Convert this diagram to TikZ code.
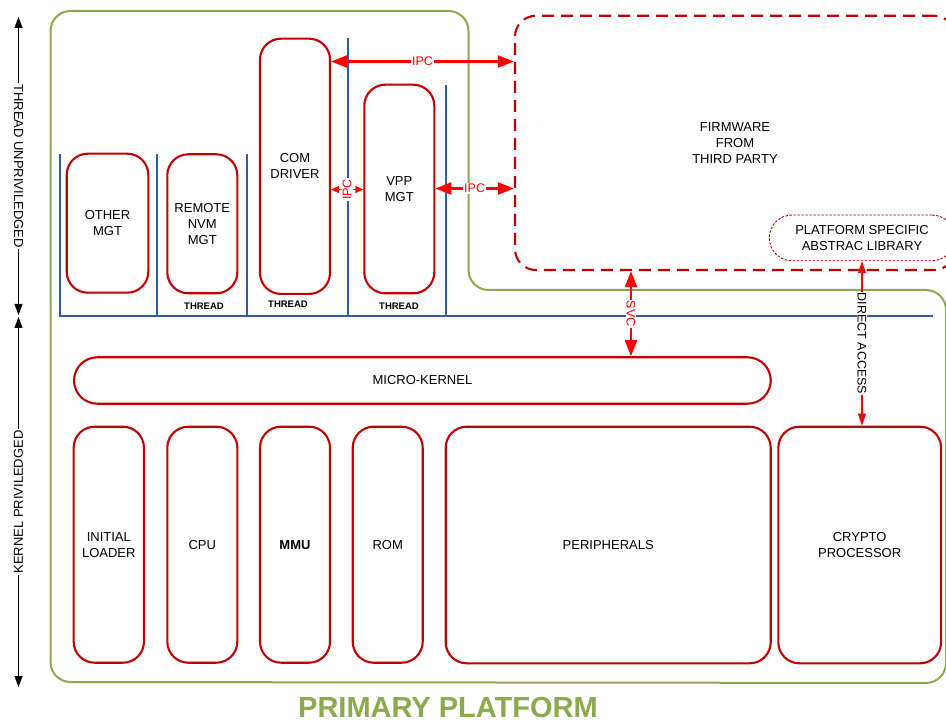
\documentclass[tikz,border=0pt]{standalone}
\usepackage{fontspec}
\setmainfont{Liberation Sans}
\usetikzlibrary{arrows.meta}
\definecolor{dkred}{HTML}{C00000}
\definecolor{arrred}{HTML}{FF0000}
\definecolor{laneblue}{HTML}{2E5EAA}
\definecolor{platgreen}{HTML}{8AAA4E}
\begin{document}
\begin{tikzpicture}[x=1pt,y=-1pt,
  box/.style={draw=dkred, line width=2.1pt, rounded corners=21pt, inner sep=0pt,
    align=center, font=\fontsize{13}{16}\selectfont, text=black},
  fwbox/.style={box, dash pattern=on 12pt off 7pt},
  libbox/.style={draw=dkred, line width=0.9pt, dash pattern=on 2.5pt off 1.5pt,
    rounded corners=22.8pt, inner sep=0pt, align=center,
    font=\fontsize{13}{16}\selectfont, text=black},
  lane/.style={draw=laneblue, line width=2pt},
  frame/.style={draw=platgreen, line width=2pt, rounded corners=20pt},
  ipc/.style={draw=arrred, line width=2.2pt,
    {Triangle[length=16pt,width=12pt]}-{Triangle[length=16pt,width=12pt]}},
  ipcsmall/.style={draw=arrred, line width=1.6pt,
    {Triangle[length=8pt,width=7pt]}-{Triangle[length=8pt,width=7pt]}},
  direct/.style={draw=arrred, line width=1.1pt,
    {Triangle[length=12pt,width=8pt]}-{Triangle[length=12pt,width=8pt]}},
  axis/.style={draw=black, line width=1pt,
    {Triangle[length=11pt,width=8pt]}-{Triangle[length=11pt,width=8pt]}},
  ipclab/.style={fill=white, text=arrred, inner sep=1pt, font=\fontsize{12.5}{14}\selectfont},
  dlab/.style={fill=white, text=black, inner sep=1pt, font=\fontsize{12.5}{14}\selectfont},
  axlab/.style={fill=white, text=black, inner sep=1pt, font=\fontsize{13}{15}\selectfont},
  thr/.style={font=\fontsize{9.5}{11}\selectfont\bfseries, text=black, inner sep=0pt},
]
\useasboundingbox (0,0) rectangle (946,722);

% platform outline
\draw[frame] (50.5,400) -- (50.5,11) -- (468.5,11) -- (468.5,290) -- (946,290)
  -- (946,683) -- (50.5,682) -- cycle;
\node[text=platgreen, inner sep=0pt, font=\fontsize{29}{32}\selectfont\bfseries] (title) at (448,707.5) {PRIMARY PLATFORM};

% privilege axis
\coordinate (a1) at (18.5,17);
\coordinate (a2) at (18.5,315);
\coordinate (a3) at (18.5,317);
\coordinate (a4) at (18.5,687);
\draw[axis] (a1) -- node[axlab, rotate=-90] (unpriv) {THREAD UNPRIVILEDGED} (a2);
\draw[axis] (a3) -- node[axlab, rotate=90] (priv) {KERNEL PRIVILEDGED} (a4);

% thread lanes
\draw[lane] (60,154) -- (60,316.5) -- (933,316.5);
\draw[lane] (157,154) -- (157,316.5);
\draw[lane] (247,154) -- (247,316.5);
\draw[lane] (348,38) -- (348,316.5);
\draw[lane] (446,85) -- (446,316.5);

% unprivileged tasks
\node[box, minimum width=81.6pt, minimum height=139pt] (other) at (107.5,223.2) {OTHER\\MGT};
\node[box, minimum width=70pt, minimum height=139pt] (remote) at (202.3,223.8) {REMOTE\\NVM\\MGT};
\node[box, minimum width=70pt, minimum height=255.3pt] (com) at (295,166.3) {COM\\DRIVER};
\node[box, minimum width=70pt, minimum height=208.6pt] (vpp) at (399.3,189) {VPP\\MGT};
\node[thr] (t1) at (204,306) {THREAD};
\node[thr] (t2) at (288,304) {THREAD};
\node[thr] (t3) at (399,306) {THREAD};

% third-party firmware
\node[fwbox, minimum width=440pt, minimum height=254.3pt] (fw) at (735,142.9) {FIRMWARE\\FROM\\THIRD PARTY};
\node[libbox, minimum width=185.4pt, minimum height=45.7pt] (lib) at (862,237.9) {PLATFORM SPECIFIC\\ABSTRAC LIBRARY};

% kernel and hardware
\node[box, rounded corners=23.2pt, minimum width=696.7pt, minimum height=46.4pt] (micro) at (422.4,380.5) {MICRO-KERNEL};
\node[box, minimum width=70.3pt, minimum height=236pt] (loader) at (108.8,544.7) {INITIAL\\LOADER};
\node[box, minimum width=70pt, minimum height=236pt] (cpu) at (202.3,544.7) {CPU};
\node[box, minimum width=70pt, minimum height=236pt, font=\fontsize{13}{16}\selectfont\bfseries] (mmu) at (295,544.7) {MMU};
\node[box, minimum width=70pt, minimum height=236pt] (rom) at (387.7,544.7) {ROM};
\node[box, minimum width=325pt, minimum height=236.6pt] (periph) at (608.2,545) {PERIPHERALS};
\node[box, minimum width=162.7pt, minimum height=236.6pt] (crypto) at (859.7,545) {CRYPTO\\PROCESSOR};

% communication paths
\coordinate (yTop) at (0,61.5);
\coordinate (yMid) at (0,189.5);
\coordinate (yR) at (0,188.5);
\coordinate (xSvc) at (631,0);
\draw[ipc] (com.east |- yTop) -- node[ipclab] (ipc1) {IPC} (fw.west |- yTop);
\draw[ipcsmall] (com.east |- yMid) -- node[ipclab, rotate=90] (ipc2) {IPC} (vpp.west |- yMid);
\draw[ipc] (vpp.east |- yR) -- node[ipclab] (ipc3) {IPC} (fw.west |- yR);
\draw[ipc] (fw.south -| xSvc) -- node[ipclab, rotate=-90] (svc) {SVC} (micro.north -| xSvc);
\draw[direct] (lib.south) -- node[dlab, rotate=-90] (da) {DIRECT ACCESS} (crypto.north -| lib.south);
\end{tikzpicture}
\end{document}
